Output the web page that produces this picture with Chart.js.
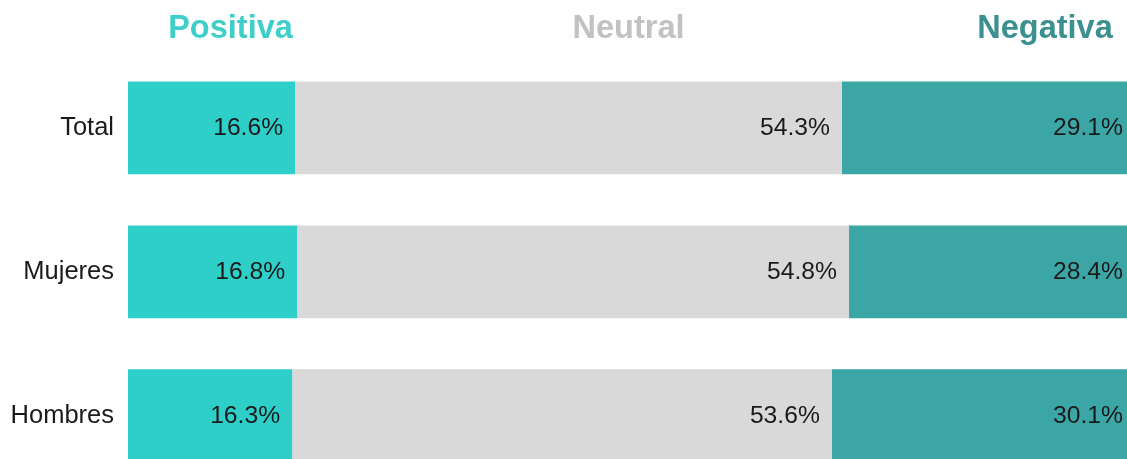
<!DOCTYPE html>
<html>
<head>
<meta charset="utf-8">
<script src="https://cdn.jsdelivr.net/npm/chart.js@4/dist/chart.umd.min.js"></script>
<style>
  html, body { margin: 0; padding: 0; background: #ffffff; overflow: hidden; width: 1127px; height: 459px; }
  #wrap { position: absolute; left: 0; top: 0; width: 1135px; height: 517px; }
</style>
</head>
<body>
<div id="wrap"><canvas id="c" width="1135" height="517"></canvas></div>
<script>
const categories = ["Total", "Mujeres", "Hombres"];
const seriesNames = ["Positiva", "Neutral", "Negativa"];
const positiva = [16.6, 16.8, 16.3];
const neutral = [54.3, 54.8, 53.6];
const negativa = [29.1, 28.4, 30.1];

const barColors = ["#2ECFC9", "#D9D9D9", "#3CA6A6"];
const headerColors = ["#3FCFCA", "#C2C2C2", "#3D9090"];
const headerX = [230.5, 628.5, 1045];

const headerPlugin = {
  id: 'headers',
  afterDraw(chart) {
    const ctx = chart.ctx;
    ctx.save();
    ctx.font = 'bold 32.5px "Liberation Sans", Arial, sans-serif';
    ctx.textAlign = 'center';
    ctx.textBaseline = 'alphabetic';
    seriesNames.forEach((n, i) => {
      ctx.fillStyle = headerColors[i];
      ctx.fillText(n, headerX[i], 38);
    });
    ctx.restore();
  }
};

const valueLabels = {
  id: 'valueLabels',
  afterDatasetsDraw(chart) {
    const ctx = chart.ctx;
    ctx.save();
    ctx.font = '24.7px "Liberation Sans", Arial, sans-serif';
    ctx.fillStyle = '#1a1a1a';
    ctx.textAlign = 'right';
    ctx.textBaseline = 'middle';
    chart.data.datasets.forEach((ds, di) => {
      const meta = chart.getDatasetMeta(di);
      meta.data.forEach((bar, i) => {
        const v = ds.data[i];
        ctx.fillText(v.toFixed(1) + '%', bar.x - 12, bar.y);
      });
    });
    ctx.restore();
  }
};

new Chart(document.getElementById('c'), {
  type: 'bar',
  data: {
    labels: categories,
    datasets: [
      { label: seriesNames[0], data: positiva, backgroundColor: barColors[0] },
      { label: seriesNames[1], data: neutral, backgroundColor: barColors[1] },
      { label: seriesNames[2], data: negativa, backgroundColor: barColors[2] }
    ]
  },
  options: {
    indexAxis: 'y',
    responsive: false,
    animation: false,
    layout: { padding: { top: 56, bottom: 0, left: 0, right: 0 } },
    datasets: { bar: { categoryPercentage: 1, barPercentage: 0.645, borderWidth: 0 } },
    plugins: { legend: { display: false }, tooltip: { enabled: false } },
    scales: {
      x: { stacked: true, min: 0, max: 100, display: false },
      y: {
        stacked: true,
        grid: { display: false, drawTicks: false },
        border: { display: false },
        ticks: { padding: 14, color: '#1a1a1a', font: { size: 25.5, family: '"Liberation Sans", Arial, sans-serif' } },
        afterFit(scale) { scale.width = 128; }
      }
    }
  },
  plugins: [headerPlugin, valueLabels]
});
</script>
</body>
</html>
